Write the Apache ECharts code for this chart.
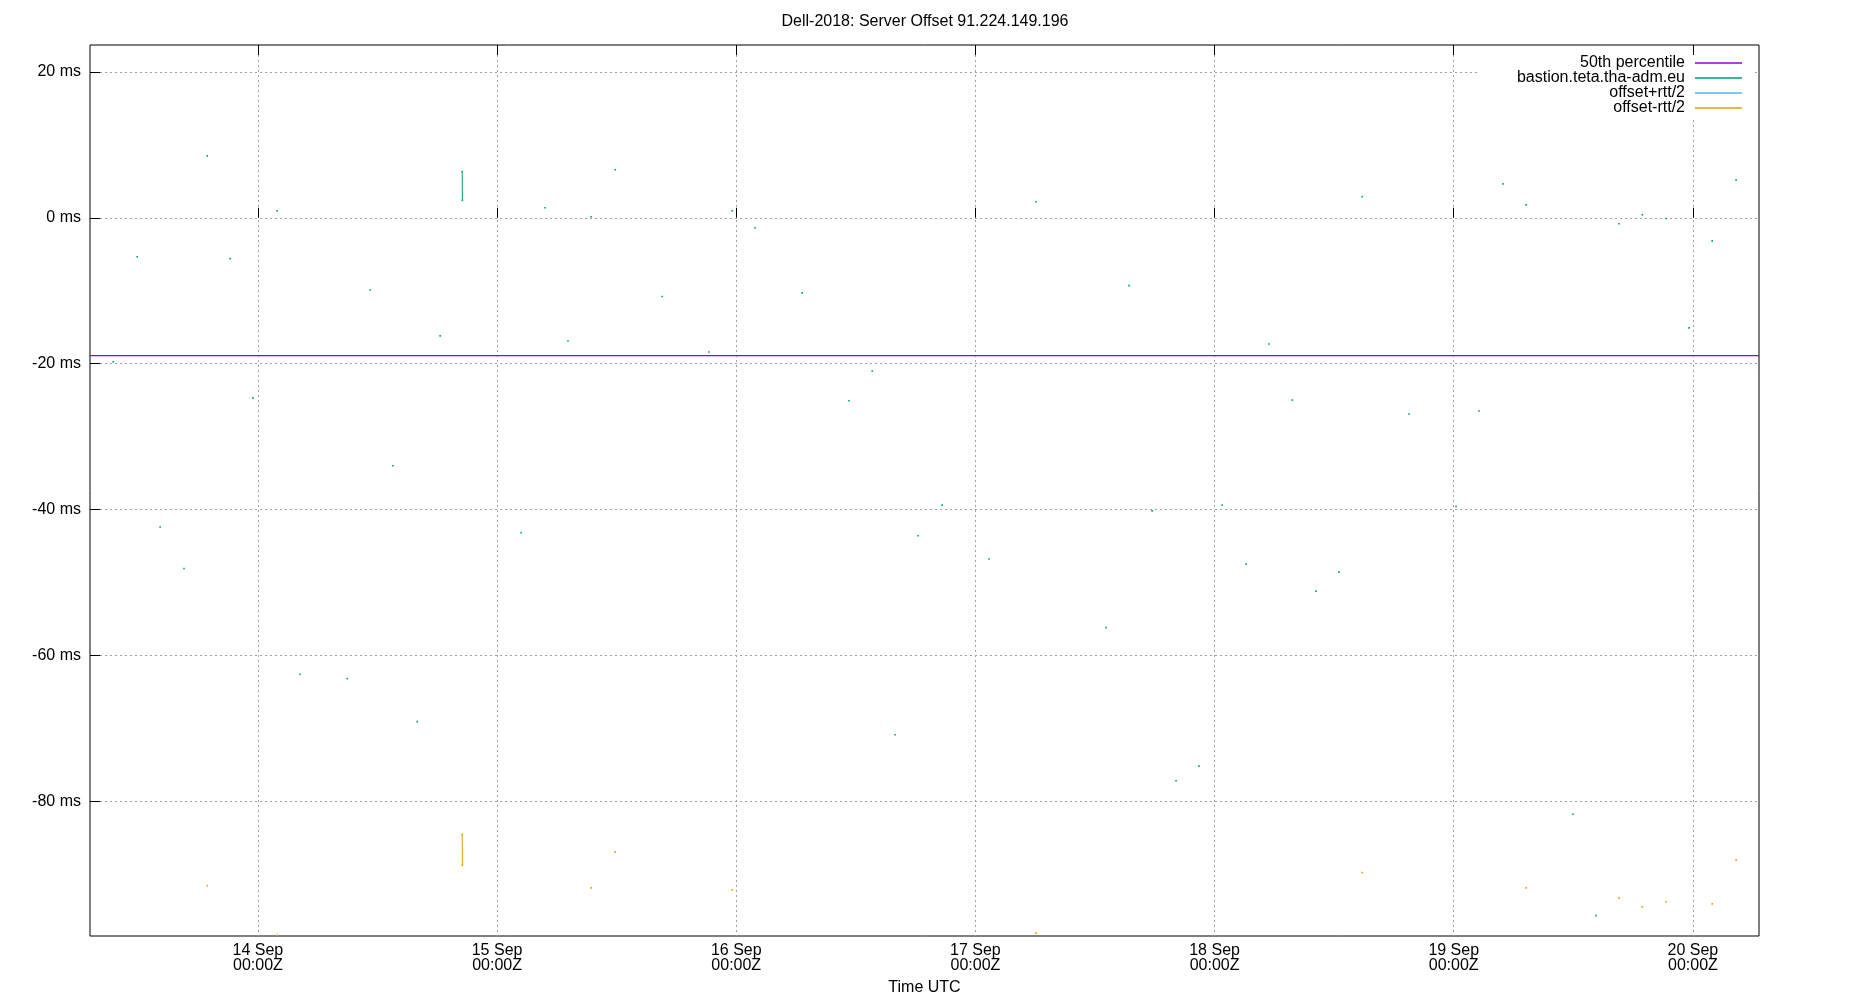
<!DOCTYPE html>
<html>
<head>
<meta charset="utf-8">
<title>Dell-2018: Server Offset 91.224.149.196</title>
<script src="https://cdn.jsdelivr.net/npm/echarts@6/dist/echarts.min.js"></script>
<style>
    html, body { margin: 0; padding: 0; background: #fff; }
    #chart { width: 1850px; height: 1000px; }
</style>
</head>
<body>
<div id="chart"></div>
<script>
const chartTitle = 'Dell-2018: Server Offset 91.224.149.196'
const seriesNames = ['50th percentile', 'bastion.teta.tha-adm.eu', 'offset+rtt/2', 'offset-rtt/2']

// x range of the plot (UTC)
const rangeStart = '2018-09-13T07:09'
const rangeEnd = '2018-09-20T06:38'

// tick positions
const dayTicks = ['2018-09-14', '2018-09-15', '2018-09-16', '2018-09-17', '2018-09-18', '2018-09-19', '2018-09-20']
const msTicks = [-80, -60, -40, -20, 0, 20]
const yMin = -98.5
const yMax = 23.7

const percentile50 = -18.9

// one sample per entry (UTC)
const sampleTimes = [
    '2018-09-13T09:29', '2018-09-13T11:53', '2018-09-13T14:11', '2018-09-13T16:35', '2018-09-13T18:55',
    '2018-09-13T21:13', '2018-09-13T23:30', '2018-09-14T01:56', '2018-09-14T04:14', '2018-09-14T08:58',
    '2018-09-14T11:16', '2018-09-14T13:33', '2018-09-14T15:59', '2018-09-14T18:17', '2018-09-14T20:30',
    '2018-09-14T20:31', '2018-09-15T02:25', '2018-09-15T04:49', '2018-09-15T07:07', '2018-09-15T09:26',
    '2018-09-15T11:51', '2018-09-15T16:34', '2018-09-15T21:16', '2018-09-15T23:36', '2018-09-16T01:53',
    '2018-09-16T06:37', '2018-09-16T11:19', '2018-09-16T13:39', '2018-09-16T15:56', '2018-09-16T18:14',
    '2018-09-16T20:40', '2018-09-17T01:22', '2018-09-17T06:05', '2018-09-17T13:07', '2018-09-17T15:25',
    '2018-09-17T17:44', '2018-09-17T20:08', '2018-09-17T22:26', '2018-09-18T00:46', '2018-09-18T03:10',
    '2018-09-18T05:28', '2018-09-18T07:48', '2018-09-18T10:11', '2018-09-18T12:29', '2018-09-18T14:49',
    '2018-09-18T19:31', '2018-09-19T00:14', '2018-09-19T02:32', '2018-09-19T04:56', '2018-09-19T07:16',
    '2018-09-19T11:58', '2018-09-19T14:17', '2018-09-19T16:35', '2018-09-19T18:55', '2018-09-19T21:19',
    '2018-09-19T23:37', '2018-09-20T01:56', '2018-09-20T04:20'
]

const offsetMs = [
    -19.75, -5.35, -42.4, -48.1, 8.5,
    -5.6, -24.7, 0.96, -62.6, -63.2,
    -9.9, -34.0, -69.1, -16.2, 6.35,
    2.4, -43.2, 1.37, -16.9, 0.14,
    6.6, -10.8, -18.4, 0.96, -1.37,
    -10.3, -25.1, -21.0, -70.9, -43.6,
    -39.4, -46.8, 2.2, -56.2, -9.3,
    -40.2, -77.2, -75.2, -39.4, -47.5,
    -17.3, -25.0, -51.2, -48.6, 2.9,
    -26.9, -39.6, -26.5, 4.66, 1.78,
    -81.8, -95.7, -0.82, 0.41, -0.1,
    -15.1, -3.16, 5.2
]

// offset-rtt/2, null where it falls below the plotted range
const offsetMinusHalfRtt = [
    null, null, null, null, -91.6,
    null, null, -98.4, null, null,
    null, null, null, null, -84.6,
    -88.8, null, null, null, -91.9,
    -87.0, null, null, -92.2, null,
    null, null, null, null, null,
    null, null, -98.1, null, null,
    null, null, null, null, null,
    null, null, null, null, -89.8,
    null, null, null, null, -91.9,
    null, null, -93.3, -94.5, -93.8,
    null, -94.1, -88.1
]

// offset+rtt/2 lies above the plotted range for every sample
const offsetPlusHalfRtt = []

const FONT = '"Liberation Sans", Arial, sans-serif'
const MONTHS = ['Jan', 'Feb', 'Mar', 'Apr', 'May', 'Jun', 'Jul', 'Aug', 'Sep', 'Oct', 'Nov', 'Dec']
const GAP = 30 * 60 * 1000

const toTime = s => Date.parse(s.length === 10 ? s + 'T00:00Z' : s + 'Z')
const xStart = toTime(rangeStart)
const xEnd = toTime(rangeEnd)
const dayTickValues = dayTicks.map(toTime)

// samples further apart than GAP are not joined by a line
const buildLine = (times, values) => {
    const out = []
    let last = null
    times.forEach((s, i) => {
        const v = values[i]
        if (v === null || v === undefined) return
        const t = toTime(s)
        if (last !== null && t - last > GAP) out.push([t, '-'])
        out.push([t, v])
        last = t
    })
    return out
}

const dateLabel = v => {
    const d = new Date(v)
    const hh = String(d.getUTCHours()).padStart(2, '0')
    const mm = String(d.getUTCMinutes()).padStart(2, '0')
    return d.getUTCDate() + ' ' + MONTHS[d.getUTCMonth()] + '\n' + hh + ':' + mm + 'Z'
}

const gridLine = { show: true, lineStyle: { color: '#a0a0a0', width: 1, type: [2, 3] } }
const labelText = { color: '#000', fontSize: 16, fontFamily: FONT }

const dotSeries = (name, color, data) => ({
    name: name,
    type: 'line',
    data: data,
    symbol: 'rect',
    symbolSize: 1.6,
    showSymbol: true,
    showAllSymbol: true,
    lineStyle: { color: color, width: 1 },
    itemStyle: { color: color },
    silent: true
})

const chart = echarts.init(document.getElementById('chart'))

const option = {
    animation: false,
    backgroundColor: '#fff',
    title: {
        text: chartTitle,
        left: 'center',
        top: 9,
        textStyle: { ...labelText, fontWeight: 'normal' }
    },
    legend: {
        data: seriesNames,
        orient: 'vertical',
        align: 'right',
        right: 97,
        top: 47,
        icon: 'rect',
        itemWidth: 47,
        itemHeight: 1.5,
        itemGap: -1,
        padding: [8, 11, 2, 37],
        backgroundColor: '#fff',
        selectedMode: false,
        textStyle: { ...labelText, lineHeight: 15, padding: [0, 5, 0, 0] }
    },
    grid: {
        left: 90,
        right: 91,
        top: 45,
        bottom: 64,
        show: true,
        borderColor: '#000',
        borderWidth: 1,
        backgroundColor: 'transparent',
        outerBoundsMode: 'none'
    },
    xAxis: [
        {
            type: 'value',
            position: 'bottom',
            min: xStart,
            max: xEnd,
            name: 'Time UTC',
            nameLocation: 'middle',
            nameGap: 44,
            nameTextStyle: labelText,
            axisLine: { show: false },
            axisTick: { inside: true, length: 10, customValues: dayTickValues, lineStyle: { color: '#000' } },
            axisLabel: { ...labelText, lineHeight: 15, margin: 7, customValues: dayTickValues, formatter: dateLabel },
            splitLine: gridLine
        },
        {
            type: 'value',
            position: 'top',
            min: xStart,
            max: xEnd,
            z: 10,
            axisLine: { show: false },
            axisTick: { inside: true, length: 10, customValues: dayTickValues, lineStyle: { color: '#000' } },
            axisLabel: { show: false },
            splitLine: { show: false }
        }
    ],
    yAxis: {
        type: 'value',
        min: yMin,
        max: yMax,
        axisLine: { show: false },
        axisTick: { inside: true, length: 10, customValues: msTicks, lineStyle: { color: '#000' } },
        axisLabel: { ...labelText, margin: 9, customValues: msTicks, formatter: v => v + ' ms' },
        splitLine: gridLine
    },
    series: [
        {
            name: seriesNames[0],
            type: 'line',
            data: [[xStart, percentile50], [xEnd, percentile50]],
            showSymbol: false,
            lineStyle: { color: '#9400d3', width: 1.2 },
            itemStyle: { color: '#9400d3' },
            silent: true
        },
        dotSeries(seriesNames[1], '#009e73', buildLine(sampleTimes, offsetMs)),
        dotSeries(seriesNames[2], '#56b4e9', buildLine(sampleTimes, offsetPlusHalfRtt)),
        dotSeries(seriesNames[3], '#e69f00', buildLine(sampleTimes, offsetMinusHalfRtt))
    ]
}

chart.setOption(option)
</script>
</body>
</html>
